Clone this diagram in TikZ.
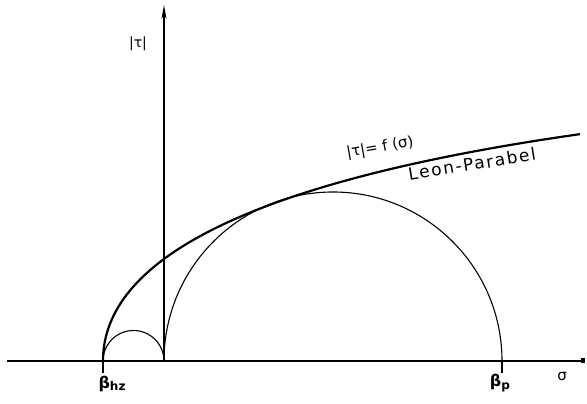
\documentclass[tikz,border=0pt]{standalone}
\usepackage{fontspec}
\setmainfont{DejaVu Sans}
\usetikzlibrary{arrows.meta}
\begin{document}
\begin{tikzpicture}[x=1pt,y=1pt,
  axis/.style={line width=1.8pt},
  thincirc/.style={line width=1.1pt},
  leon/.style={line width=2.2pt},
  lbl/.style={font=\fontsize{14}{14}\selectfont, inner sep=0pt},
  biglbl/.style={font=\fontsize{17}{17}\selectfont\addfontfeatures{LetterSpace=10}, inner sep=0pt},
  tickmark/.style={line width=1.3pt}]
\useasboundingbox (0,0) rectangle (587,404);
\coordinate (O) at (164,43);
\coordinate (hz) at (103,43);
\coordinate (p) at (502,43);
\coordinate (xend) at (585,43);
\coordinate (xstart) at (7,43);
\coordinate (ytop) at (164,399);
\draw[axis] (xstart) -- (xend);
\fill (xend) ++(-4,-2.5) rectangle ++(4,5);
\draw[axis, -{Stealth[length=14pt,width=5pt]}] (O) -- (ytop);
\draw[thincirc] (hz) arc[start angle=180,end angle=0,radius=30.5];
\draw[thincirc] (O) arc[start angle=180,end angle=0,radius=169];
\draw[leon] plot[domain=0:21.84, samples=120, smooth] ({103+\x*\x},{43+14.55*\x-0.1906*\x*\x});
\draw[tickmark] (hz) -- ++(0,-12);
\draw[tickmark] (p) -- ++(0,-12);
\node[lbl] (tau) at (138,360) {|τ|};
\node[lbl, font=\fontsize{16}{16}\selectfont\bfseries] (bhz) at (112,20) {β\raisebox{-0.25ex}{\fontsize{12}{12}\selectfont hz}};
\node[lbl, font=\fontsize{16}{16}\selectfont\bfseries] (bp) at (500,21) {β\raisebox{-0.25ex}{\fontsize{12}{12}\selectfont p}};
\node[lbl, font=\fontsize{15}{15}\selectfont] (sig) at (562,27) {σ};
\node[lbl, font=\fontsize{15}{15}\selectfont, rotate=10] (f) at (380,256) {|τ|= f (σ)};
\node[biglbl, rotate=9] (leonlbl) at (472,240) {Leon-Parabel};
\end{tikzpicture}
\end{document}
